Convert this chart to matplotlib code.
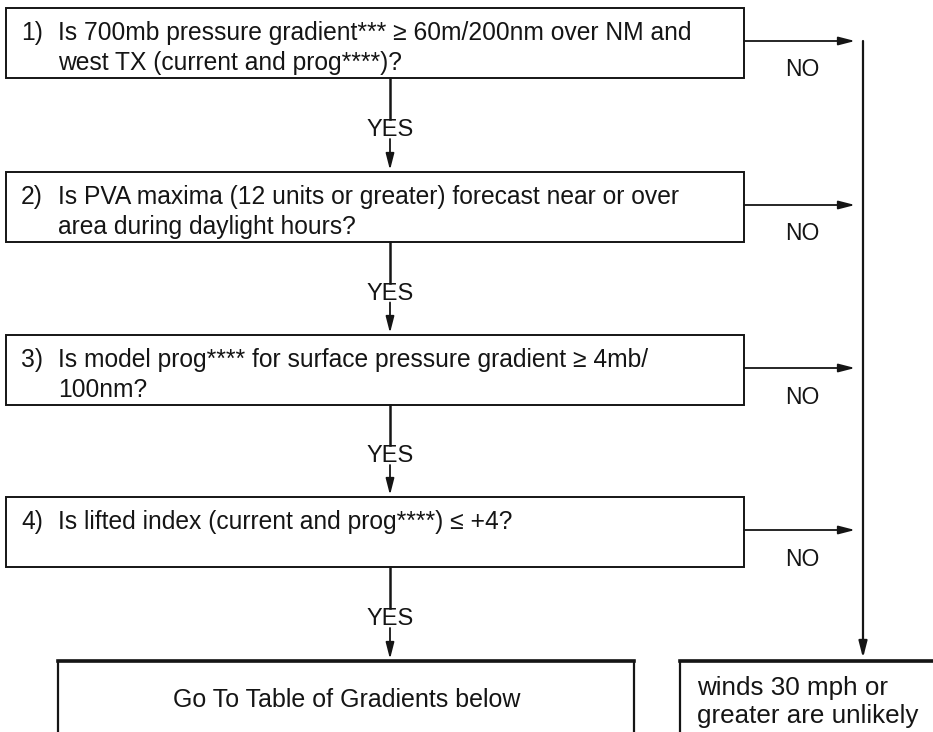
import matplotlib.pyplot as plt
from matplotlib.patches import Rectangle

plt.rcParams['font.family'] = ['Liberation Sans', 'DejaVu Sans']

# flowchart content
step_numbers = ["1)", "2)", "3)", "4)"]
step_lines = [
    ["Is 700mb pressure gradient*** \u2265 60m/200nm over NM and",
     "west TX (current and prog****)?"],
    ["Is PVA maxima (12 units or greater) forecast near or over",
     "area during daylight hours?"],
    ["Is model prog**** for surface pressure gradient \u2265 4mb/",
     "100nm?"],
    ["Is lifted index (current and prog****) \u2264 +4?"],
]
yes_label = "YES"
no_label = "NO"
result_yes = "Go To Table of Gradients below"
result_no = ["winds 30 mph or", "greater are unlikely"]

# layout (pixels)
W, H = 933, 732
box_left, box_right = 6, 744
box_tops = [8, 172, 335, 497]
box_h = 70
mid_x = 390
right_x = 863
res_top = 661
ink = "#151515"
fs = 17.7

fig = plt.figure(figsize=(W / 100, H / 100), dpi=100)
ax = fig.add_axes([0, 0, 1, 1])
ax.set_xlim(0, W)
ax.set_ylim(H, 0)
ax.axis("off")

arrow = dict(arrowstyle="-|>,head_length=0.7,head_width=0.18", color=ink,
             lw=1.3, mutation_scale=14, shrinkA=0, shrinkB=0)

for i, top in enumerate(box_tops):
    ax.add_patch(Rectangle((box_left, top), box_right - box_left, box_h,
                           fill=False, ec=ink, lw=1.4))
    ax.text(21, top + 25, step_numbers[i], fontsize=fs, color=ink, va="center")
    for j, line in enumerate(step_lines[i]):
        ax.text(58, top + 25 + 30 * j, line, fontsize=fs, color=ink, va="center")

    # NO branch
    ay = top + box_h / 2 - 2
    ax.annotate("", xy=(855, ay), xytext=(box_right, ay), arrowprops=arrow)
    ax.text(802, top + box_h - 8, no_label, fontsize=16.5, color=ink,
            ha="center", va="center")

    # YES branch
    y0 = top + box_h
    y1 = box_tops[i + 1] if i + 1 < len(box_tops) else res_top
    yy = (y0 + y1) / 2 + 5
    ax.plot([mid_x, mid_x], [y0, yy - 11], color=ink, lw=1.8)
    ax.text(mid_x, yy, yes_label, fontsize=17, color=ink, ha="center", va="center")
    ax.annotate("", xy=(mid_x, y1 - 2), xytext=(mid_x, yy + 9), arrowprops=arrow)

# collecting NO line
ax.annotate("", xy=(right_x, res_top - 3), xytext=(right_x, box_tops[0] + box_h / 2 - 2),
            arrowprops=dict(arrow, lw=1.6))

# result boxes
ax.add_patch(Rectangle((58, res_top), 634 - 58, 90, fill=False, ec=ink, lw=1.6))
ax.plot([58, 634], [res_top, res_top], color=ink, lw=2.6)
ax.text(347, 700, result_yes, fontsize=18, color=ink, ha="center", va="center")

ax.add_patch(Rectangle((680, res_top), 300, 90, fill=False, ec=ink, lw=1.6))
ax.plot([680, W], [res_top, res_top], color=ink, lw=2.6)
for j, line in enumerate(result_no):
    ax.text(697, 688 + 28 * j, line, fontsize=18.7, color=ink, va="center")

fig.savefig("out.png", dpi=100, facecolor="white")
